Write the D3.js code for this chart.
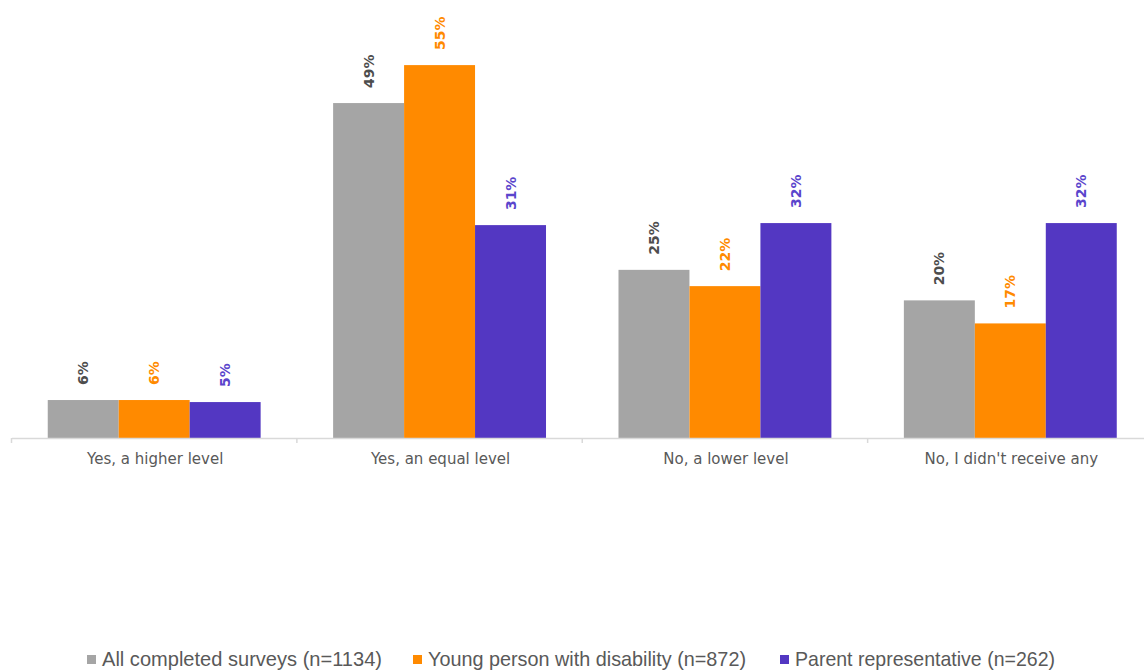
<!DOCTYPE html>
<html>
<head>
<meta charset="utf-8">
<script src="https://cdn.jsdelivr.net/npm/d3@7"></script>
<style>
  html, body { margin: 0; padding: 0; background: #fff; }
  svg { display: block; }
</style>
</head>
<body>
<svg id="chart" width="1144" height="672"></svg>
<script>
const categories = ["Yes, a higher level", "Yes, an equal level", "No, a lower level", "No, I didn't receive any"];
const seriesNames = ["All completed surveys (n=1134)", "Young person with disability (n=872)", "Parent representative (n=262)"];
const allSurveys = [5.6, 49.4, 24.8, 20.3];
const youngPerson = [5.6, 55.0, 22.4, 16.9];
const parentRep = [5.3, 31.4, 31.7, 31.7];
const valueLabels = [
  ["6%", "49%", "25%", "20%"],
  ["6%", "55%", "22%", "17%"],
  ["5%", "31%", "32%", "32%"]
];

const seriesValues = [allSurveys, youngPerson, parentRep];
const barColors = ["#A5A5A5", "#FF8A00", "#5337C2"];
const labelColors = ["#4D4D4D", "#FF8A00", "#5A45CC"];

const svg = d3.select("#chart");
const baseY = 438;

const x0 = d3.scaleBand().domain(categories).range([11.5, 1153]).paddingInner(0.254).paddingOuter(0.127);
const x1 = d3.scaleBand().domain(d3.range(seriesNames.length)).range([0, x0.bandwidth()]).padding(0);
const y = d3.scaleLinear().domain([0, 60]).range([baseY, baseY - 60 * 6.78]);

// bars
const groups = svg.selectAll("g.cat").data(categories).join("g")
  .attr("class", "cat")
  .attr("transform", d => `translate(${x0(d)},0)`);

groups.selectAll("rect").data((c, ci) => seriesValues.map((s, si) => ({si, v: s[ci], lab: valueLabels[si][ci]})))
  .join("rect")
  .attr("x", d => x1(d.si))
  .attr("width", x1.bandwidth())
  .attr("y", d => y(d.v))
  .attr("height", d => baseY - y(d.v))
  .attr("fill", d => barColors[d.si]);

groups.selectAll("text.val").data((c, ci) => seriesValues.map((s, si) => ({si, v: s[ci], lab: valueLabels[si][ci]})))
  .join("text")
  .attr("class", "val")
  .attr("transform", d => `translate(${x1(d.si) + x1.bandwidth() / 2},${y(d.v) - 15}) rotate(-90)`)
  .attr("dy", "0.36em")
  .attr("text-anchor", "start")
  .attr("font-family", "DejaVu Sans, sans-serif")
  .attr("font-weight", "bold")
  .attr("font-size", "14px")
  .attr("fill", d => labelColors[d.si])
  .text(d => d.lab);

// axis
const axis = svg.append("g").attr("transform", `translate(0,${baseY})`);
axis.append("line").attr("x1", 12).attr("x2", 1144).attr("y1", 0.5).attr("y2", 0.5)
  .attr("stroke", "#D9D9D9").attr("stroke-width", 1.5);
const step = x0.step();
const boundaries = d3.range(categories.length + 1).map(i => x0.range()[0] + i * step);
axis.selectAll("line.tick").data(boundaries).join("line")
  .attr("class", "tick")
  .attr("x1", d => d).attr("x2", d => d)
  .attr("y1", 0).attr("y2", 5)
  .attr("stroke", "#D9D9D9").attr("stroke-width", 1.5);

axis.selectAll("text.cat").data(categories).join("text")
  .attr("class", "cat")
  .attr("x", d => x0(d) + x0.bandwidth() / 2 + 1)
  .attr("y", 26)
  .attr("text-anchor", "middle")
  .attr("font-family", "DejaVu Sans, sans-serif")
  .attr("font-size", "15px")
  .attr("fill", "#595959")
  .text(d => d);

// legend
const legendItems = [
  {x: 87, w: 280},
  {x: 413, w: 318},
  {x: 780, w: 260}
];
const legend = svg.append("g");
seriesNames.forEach((name, i) => {
  const it = legendItems[i];
  legend.append("rect").attr("x", it.x).attr("y", 655).attr("width", 9).attr("height", 9)
    .attr("fill", barColors[i]);
  legend.append("text").attr("x", it.x + 15).attr("y", 666)
    .attr("font-family", "Liberation Sans, Arial, sans-serif")
    .attr("font-size", "21px")
    .attr("fill", "#595959")
    .attr("textLength", it.w)
    .attr("lengthAdjust", "spacingAndGlyphs")
    .text(name);
});
</script>
</body>
</html>
